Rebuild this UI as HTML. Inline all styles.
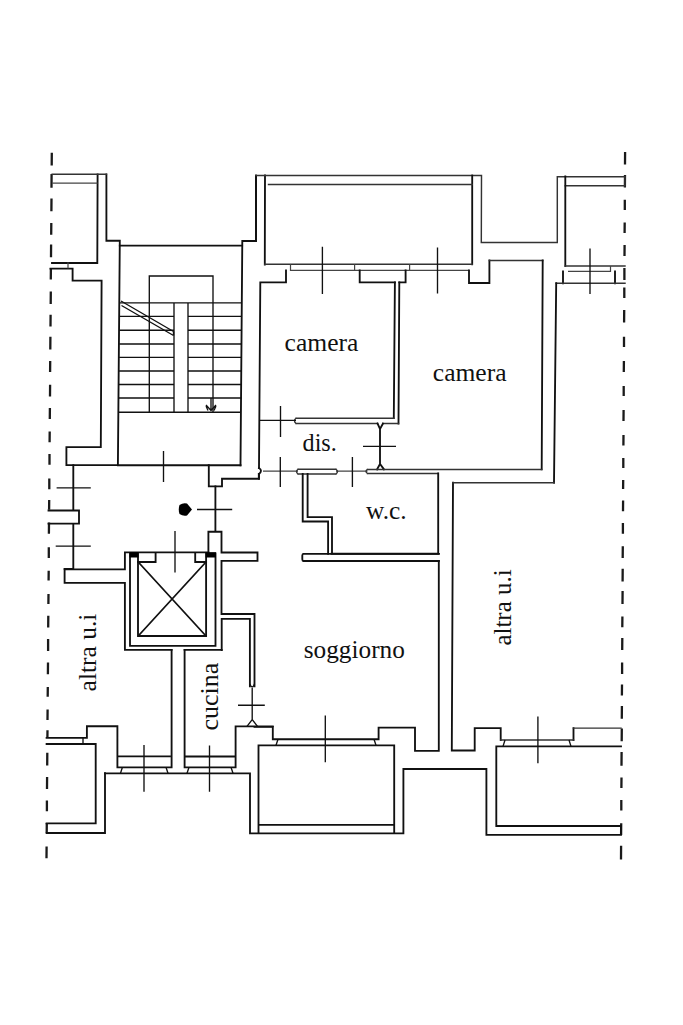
<!DOCTYPE html>
<html><head><meta charset="utf-8"><title>Floor plan</title>
<style>
html,body{margin:0;padding:0;background:#fff;width:683px;height:1025px;overflow:hidden}
svg{display:block}
.w{fill:none;stroke:#111;stroke-width:1.85;stroke-linecap:square;stroke-linejoin:miter}
.t{fill:none;stroke:#111;stroke-width:1.35;stroke-linecap:butt}
.u{fill:none;stroke:#333;stroke-width:1.45;stroke-linecap:square}
.v{fill:none;stroke:#444;stroke-width:1.2;stroke-linecap:butt}
.d{fill:none;stroke:#1a1a1a;stroke-width:2.3}
text{font-family:"Liberation Serif",serif;font-size:25px;fill:#111;stroke:none}
</style></head><body>
<svg width="683" height="1025" viewBox="0 0 683 1025" xmlns="http://www.w3.org/2000/svg">
<!-- dashed boundaries -->
<path class="d" d="M51.8 152.7L51.7 165.4 M51.6 174.0L51.5 187.8 M51.5 198.6L51.4 211.3 M51.3 223.0L51.2 234.7 M51.1 244.5L51.0 257.2 M50.9 268.0L50.8 279.6 M50.8 291.4L50.7 304.0 M50.6 314.8L50.5 326.5 M50.4 336.8L50.3 349.5 M50.2 361.0L50.1 372.0 M50.1 384.7L50.0 396.4 M49.9 408.0L49.8 418.9 M49.7 431.6L49.6 442.3 M49.5 454.0L49.5 464.8 M49.3 478.4L49.3 489.2 M49.2 500.0L49.1 509.7 M49.0 522.4L48.9 533.7 M48.8 547.3L48.8 558.0 M48.7 570.8L48.6 580.5 M48.5 594.0L48.4 604.0 M48.3 615.7L48.2 627.4 M48.1 639.0L48.1 651.0 M48.0 662.6L47.9 674.3 M47.8 687.0L47.7 696.8 M47.6 709.4L47.5 720.0 M47.5 730.3L47.4 738.0 M47.3 752.7L47.2 765.4 M47.1 777.0L47.0 788.9 M46.9 800.6L46.9 811.3 M46.8 823.0L46.7 832.8 M46.6 846.5L46.5 858.2"/>
<path class="d" d="M625.1 152.0L625.0 164.6 M625.0 175.0L624.9 187.4 M624.8 199.7L624.8 210.0 M624.7 222.5L624.6 233.0 M624.6 245.0L624.5 256.0 M624.4 268.0L624.4 280.0 M624.3 287.5L624.3 298.0 M624.2 310.0L624.1 322.6 M624.0 336.7L624.0 347.0 M623.9 361.0L623.8 372.0 M623.7 386.0L623.7 396.0 M623.6 410.0L623.5 421.0 M623.5 435.0L623.4 445.6 M623.3 458.0L623.3 468.0 M623.2 480.0L623.1 489.0 M623.1 500.5L623.0 511.2 M622.9 523.0L622.9 533.7 M622.8 546.3L622.7 558.0 M622.7 568.8L622.6 581.5 M622.6 591.0L622.5 604.0 M622.4 616.6L622.3 627.3 M622.3 638.0L622.2 650.0 M622.1 662.4L622.1 674.0 M622.0 684.6L621.9 695.4 M621.9 706.0L621.8 718.8 M621.8 728.6L621.7 741.3 M621.6 752.0L621.5 765.7 M621.5 777.4L621.4 788.0 M621.3 800.0L621.3 810.6 M621.2 823.3L621.1 835.0 M621.1 845.8L621.0 859.5"/>

<!-- top-left unit -->
<path class="w" d="M97.6 174.4 L97.3 263 H52 M106.4 174.4 V240.7 H119.8 L117.9 465.1 H66.4 V447.1 H100.8 L101.6 280.6 H72.6 V268.6 H50.5"/>
<path class="u" d="M52.2 174.2 H106.4"/>
<path class="v" d="M52.2 183.2 H97.6 M68 262.3 V268.6"/>

<!-- stair -->
<path class="w" d="M119.8 245.6 H242.3 M240.5 465.3 L242.3 241 H256 V175.6"/>
<path class="w" d="M256 175.6 V241 M265 175.5 L264.8 264.5"/>
<path class="u" d="M256 175.5 H481.5 M481.5 175.8 L481.3 242.4 H557.3 V176.8 M557.3 176.8 H625"/>
<path class="t" d="M149.3 412.2 V276 H213 V412.2"/>
<path class="t" d="M119.6 302.9 H242 M118.6 412.2 H241"/>
<path class="t" d="M119.5 316.3 H174 M188 316.3 H242 M119.4 330.2 H174 M188 330.2 H242 M119.3 344 H174 M188 344 H242 M119.2 357.3 H174 M188 357.3 H241.8 M119.1 371 H174 M188 371 H241.7 M119 384.5 H174 M188 384.5 H241.6 M118.9 398 H174 M188 398 H241.5"/>
<path class="t" d="M174 302.9 V412.2 M188 302.9 V412.2"/>
<path class="t" d="M121 301 L173.5 331.5 M121.5 305.5 L173.5 335.5 M173.5 331.5 V335.5"/>
<path class="t" d="M206 405 L211 410.5 L216 405 M211 398 V410.5 M208 410.5 L206 406 M214 410.5 L216 406"/>
<path class="t" d="M163.5 451 V482"/>
<path class="w" d="M117.9 465.2 H240.5"/>

<!-- top centre block -->
<path class="w" d="M472.2 175.5 V264.3"/>
<path class="u" d="M264.8 264.3 H472.2 M268.5 184.4 H472.2 M565.3 185.7 H625 M625 176.4 V185.7"/>
<path class="w" d="M565.3 176.4 V266"/>
<path class="u" d="M565.3 266 H625"/>
<path class="v" d="M290.5 264.3 V270.4 H469 M354.6 264.3 V270.4 M409.6 264.3 V270.4"/>
<path class="w" d="M286 270.4 V282.3 H260.3 L259 468 M359.7 270.4 V282.4 H394.9 M405.6 270.4 V282.4 H399.3"/>
<path class="w" d="M469 270.4 V283 H489.4 V260.5"/>
<path class="u" d="M489.4 260.5 H542.7"/>
<path class="w" d="M542.7 260.5 L541.7 469.3"/>
<path class="v" d="M568 271.3 H610.5 V266"/>
<path class="w" d="M563 271.3 V283.2 M615 271.3 V283.2"/>
<path class="u" d="M625 283.2 H556.2"/>
<path class="w" d="M556.2 283.2 L554 482.7 M453 482.7 L451.8 750.5 H474.7 V728.1 H500.7 V740 M573.5 740 V728.1"/>
<path class="u" d="M554 482.7 H453 M573.5 728.1 H621 M500.7 740 H573.5"/>
<path class="t" d="M322.4 246.8 V294 M437.5 247.4 V293.5 M590 248.4 V294"/>

<!-- camera 1 walls -->
<path class="w" d="M394.9 282.4 L393.8 418 M399.3 282.4 L398.5 423.5"/>
<path class="u" d="M296 418.2 H393.8 M296 423.5 H377.5 M383 423.5 H398.5 M296 418.2 Q293 420.8 296 423.5"/>
<path class="t" d="M259.5 420.3 H296"/>
<path class="t" d="M280.5 406 V437 M363 446.4 H396"/>
<path class="w" d="M380 429 V464 M377.5 423.5 L380 429 L383 423.5 M377 469.4 L380 464 L384 469.4"/>
<path class="w" d="M259 468 Q263 470.5 259 474 V478.7"/>

<!-- dis bottom / wc -->
<path class="v" d="M263 471.1 H298 M336 471.1 H367.5"/>
<path class="t" d="M280.3 457 V487 M352.4 457 V487"/>
<path class="u" d="M298 469.2 H336 M298 474 H336 M298 469.2 Q295 471.6 298 474 M336 469.2 Q339 471.6 336 474 M367.5 469.4 H541.7 M367.5 473.4 H438.2 M367.5 469.4 Q364.5 471.4 367.5 473.4"/>
<path class="w" d="M438.2 473.4 V553.7 H331.5 M307.6 474 V517.1 H332 V553.7 M302.7 474 V521.5 H328.1 V553.7"/>
<path class="w" d="M303.5 553.8 H439 M303.5 561 H439 M303.5 553.8 Q302.3 553.8 302.3 555.5 V559.3 Q302.3 561 303.5 561 M438.8 561 V750.8 H415 V727.6 H378.6 V739.2 H272.8 V726.8 H254.5"/>

<!-- landing -->
<path class="w" d="M208.8 465.2 V486.4 H222 V478.7 H258.8 V474"/>
<path class="w" d="M215.4 486.4 V531"/>
<path class="t" d="M197 509.5 H232.2"/>
<path d="M179.5 505 Q183 502.5 187 503.5 L192 509.5 L187 515.5 Q183 516.5 179.5 514 Q178 509.5 179.5 505 Z" fill="#000"/>
<path class="w" d="M208.4 531.7 H221.5 V552.5 H257.5 V560.8 H221.5 V614 H254.5 V686.3 M221.7 618.8 H249.9 V686.3 M221.7 618.8 V650 M208.4 531.7 V552.5"/>
<path class="t" d="M252.2 688 V720.5 M238 705.2 H264.8 M247 726.3 L252.2 719.5 L257.5 726.3"/>
<path class="t" d="M249.9 684 Q252.2 690 254.5 684"/>

<!-- lift -->
<path class="w" d="M124.9 552.3 H208.4 M124.9 552.3 V569.4 H64.6 V582.8 H124.9 V649.8 H171.6 M184.6 649.8 H221.7"/>
<path class="w" d="M130 645.8 V553.5 H138 V636 H206.1 V553.5 H215.5 V645.8 H130"/>
<path d="M129.5 552.3 H138.5 V557.5 H129.5 Z M205.6 552.3 H216 V557.5 H205.6 Z" fill="#000"/>
<path class="w" d="M138 562 H155.6 V553 M206.1 562 H195.2 V553"/>
<path class="t" style="stroke-width:1.8" d="M138.2 562 L206 636 M206 562 L138.2 636"/><path class="t" d="M175 531 V572.4"/>

<!-- kitchen -->
<path class="w" d="M171.6 649.8 V767.3 H117.4 M184.6 649.8 V767.3 H235.6 V726.3 H272.8 M184.6 756.5 H235.6 M169.7 756.3 H117.4 M117.4 767.3 V726.2 H86.9 V737.8 H46.6 M95.7 744 H46.6 M95.7 744 V823.4 H46.6 M105 773.2 V833 H46.6"/>
<path class="w" d="M105 773.4 H250 V833.3 H403.4 V769 H486.4 V834.8 H621 M258.5 745.3 V832.8 M258.5 745.3 H394.2 V833.3 M258.5 824.9 H394.2 M496.3 746.4 H621 M496.3 746.4 V826 H621 M621 826 V834.8"/>
<path class="t" d="M144 745 V791.7 M209.5 745.4 V791.7 M325.3 715.5 V762.2 M537.9 716.4 V763.2"/>
<path class="t" d="M278 739.2 L276 745.3 M374 739.2 L376 745.3 M122.4 767.3 L120.5 773.3 M166 767.3 L168 773.3 M189 767.3 L187 773.3 M231 767.3 L233 773.3 M83 737.8 V744 M505 740 L503 746.4 M569 740 L571 746.4"/>

<!-- left notch small -->
<path class="w" d="M73.3 465.2 V510.5 M48.5 510.5 H79 V523.6 H48.5 M73.3 523.6 V568.8 H64.6"/>
<path class="t" d="M56.6 487.8 H90.8 M55.7 546.1 H90.8"/>

<!-- texts -->
<text x="284.6" y="351.2" textLength="73.8" lengthAdjust="spacingAndGlyphs">camera</text>
<text x="432.8" y="380.7" textLength="73.7" lengthAdjust="spacingAndGlyphs">camera</text>
<text x="302.6" y="451.3" textLength="34.2" lengthAdjust="spacingAndGlyphs">dis.</text>
<text x="366" y="518.8" textLength="40.6" lengthAdjust="spacingAndGlyphs">w.c.</text>
<text x="303.8" y="658.2" textLength="101" lengthAdjust="spacingAndGlyphs">soggiorno</text>
<text transform="translate(217.6 730.4) rotate(-90)" textLength="67.6" lengthAdjust="spacingAndGlyphs">cucina</text>
<text transform="translate(95.6 691.4) rotate(-90)" textLength="77.8" lengthAdjust="spacingAndGlyphs">altra u.i</text>
<text transform="translate(510.9 645.6) rotate(-90)" textLength="76.3" lengthAdjust="spacingAndGlyphs">altra u.i</text>
</svg>
</body></html>
